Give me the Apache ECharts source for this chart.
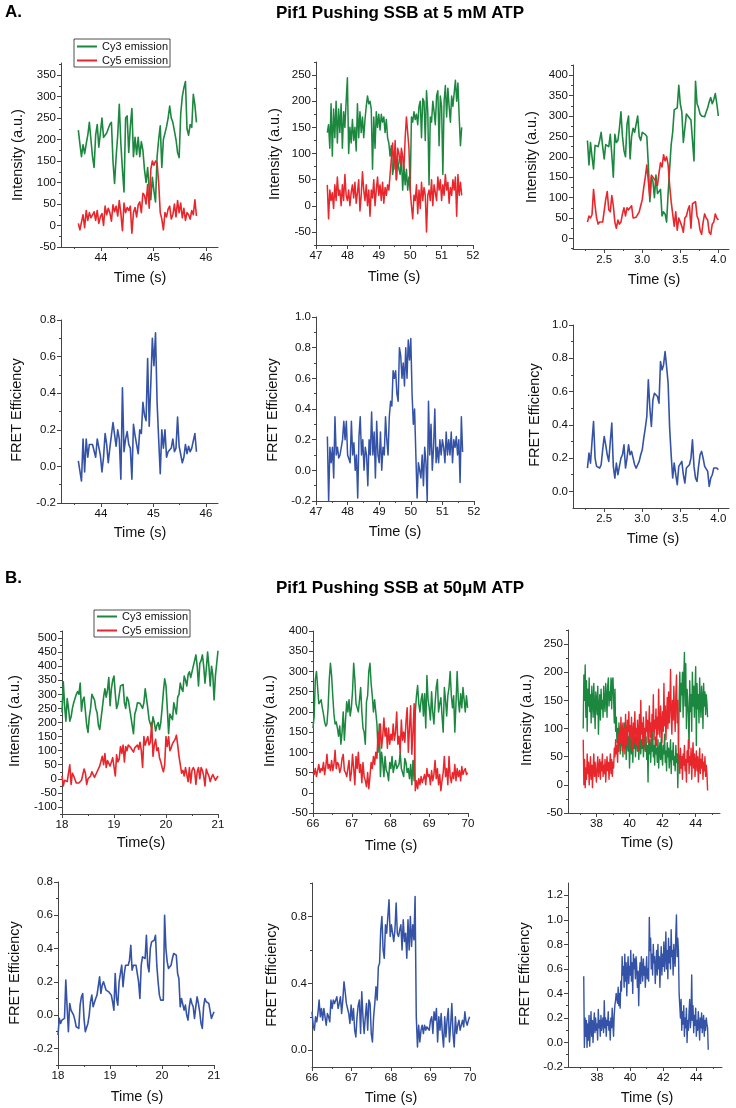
<!DOCTYPE html>
<html><head><meta charset="utf-8">
<script src="https://cdn.jsdelivr.net/npm/echarts@6/dist/echarts.min.js"></script>
<style>html,body{margin:0;padding:0;background:#fff}#c{width:736px;height:1108px}</style>
</head><body><div id="c"></div>
<script>
// ---------- sampling grids (start time, frame step in s) ----------
const a1Start = 43.57, a1Step = 0.03;
const a2Start = 47.36, a2Step = 0.04;
const a3Start = 2.28,  a3Step = 0.02;
const b1Start = 18.0,  b1Step = 0.025;
const b2Start = 66.0,  b2Step = 0.03;
const b3Start = 37.2,  b3Step = 0.04;

// ---------- A: 5 mM ATP ----------
const a1Cy3 = [222,190,160,188,167,190,210,240,200,160,135,210,235,182,215,250,205,210,215,225,235,240,150,98,160,210,282,190,130,78,250,255,170,230,272,160,205,165,205,160,195,175,130,100,135,85,60,112,80,55,160,200,232,135,200,215,230,250,278,250,240,220,200,170,158,260,300,320,335,225,210,235,228,305,280,240];
const a1Cy5 = [5,-10,8,25,-5,35,12,30,18,22,32,12,35,5,20,28,0,45,25,40,30,10,48,32,45,22,58,28,-12,52,30,42,35,45,-18,30,42,20,48,55,30,75,70,50,95,40,130,150,140,150,145,100,30,15,-10,30,20,38,45,15,25,50,20,58,30,52,18,40,12,30,25,15,35,25,60,22];
const a1Fret = [0.03,0.04,-0.08,0.15,-0.03,0.15,0.05,0.12,0.12,0.12,0.11,0.05,0.15,0.16,0.06,-0.03,0.05,0.18,0.12,0.02,0.1,0.11,0.24,0.23,0.11,0.2,0.15,-0.07,0.43,0.08,0.15,0.19,0.12,0.1,-0.07,0.23,0.17,0.18,0.07,0.2,0.18,0.35,0.28,0.25,0.59,0.22,0.45,0.7,0.55,0.73,0.35,0.15,-0.04,0.2,0.1,0.2,0.05,0.08,0.09,0.1,0.15,0.08,0.1,0.27,0.11,0.1,0.02,0.05,0.12,0.07,0.11,0.08,0.1,0.1,0.18,0.08];

const a2Cy3 = [140,155,110,195,95,185,130,200,120,185,140,195,110,180,150,200,245,100,150,120,165,125,150,105,195,130,180,140,170,130,165,190,210,195,200,185,70,170,110,180,150,175,145,175,160,170,140,165,130,120,95,115,60,75,110,50,90,70,60,95,30,75,40,70,30,55,30,170,160,180,165,175,155,190,200,130,205,200,125,220,180,40,170,160,200,180,155,210,220,115,210,190,60,200,230,170,225,190,160,210,190,215,240,200,235,170,115,150];
const a2Cy5 = [40,-25,30,10,25,-5,40,10,55,20,30,0,40,10,60,20,10,30,0,25,40,15,45,5,25,50,-10,20,65,30,10,40,0,30,-20,30,15,50,0,30,55,20,40,10,45,5,35,20,40,30,60,90,120,70,125,50,110,100,80,110,95,70,130,170,140,110,30,0,-25,20,10,40,-15,30,-5,45,10,35,20,-50,20,30,10,50,0,40,25,10,55,30,50,10,40,20,60,30,45,5,35,20,50,30,55,-20,60,20,45,20];
const a2Fret = [0.22,-0.2,0.15,0.05,0.15,-0.05,0.35,0.1,0.15,0.08,0.1,0.09,0.2,0.32,0.2,0.32,0.1,0.09,0.05,0.32,0.1,0.18,0.0,0.1,-0.18,0.22,0.35,0.1,0.2,0.0,0.15,0.1,-0.1,0.2,0.1,0.38,0.1,0.25,-0.05,0.32,0.1,0.05,0.25,0.0,0.15,0.1,0.35,0.2,0.1,0.35,0.45,0.42,0.65,0.6,0.65,0.5,0.45,0.8,0.75,0.6,0.7,0.55,0.8,0.6,0.85,0.72,0.86,0.5,0.3,0.4,0.1,-0.18,0.05,0.0,-0.05,0.1,-0.1,0.15,0.05,-0.2,0.45,0.1,0.3,0.0,0.15,0.4,0.05,0.15,0.05,0.2,0.1,0.2,0.15,0.05,0.25,0.1,0.2,0.1,0.25,0.05,0.2,0.15,0.22,0.1,0.2,-0.08,0.35,0.12];

const a3Cy3 = [240,180,235,200,170,228,230,225,240,260,225,195,230,228,225,255,205,150,255,235,240,270,310,250,215,200,280,300,195,250,270,260,280,300,250,240,260,258,255,250,180,90,150,140,100,155,110,115,120,55,65,60,40,110,170,230,260,315,318,320,375,330,310,235,270,305,300,295,290,240,190,385,330,320,305,300,300,298,310,320,335,345,330,340,355,330,300];
const a3Cy5 = [40,55,50,58,120,80,50,35,40,42,40,42,95,115,70,65,105,80,40,25,45,35,40,60,75,55,75,70,72,80,50,50,52,55,65,80,95,125,150,180,140,100,155,150,145,140,130,160,185,175,205,190,200,180,130,90,60,30,65,20,50,50,30,15,50,55,70,80,25,85,85,90,55,45,20,10,40,60,50,45,15,10,35,40,60,50,45];
const a3Fret = [0.14,0.23,0.17,0.3,0.42,0.2,0.15,0.14,0.14,0.16,0.25,0.33,0.28,0.22,0.18,0.3,0.41,0.15,0.08,0.17,0.1,0.1,0.2,0.22,0.28,0.14,0.2,0.28,0.22,0.24,0.2,0.16,0.14,0.16,0.18,0.22,0.25,0.32,0.38,0.45,0.67,0.5,0.39,0.55,0.59,0.6,0.57,0.53,0.78,0.73,0.76,0.84,0.75,0.65,0.38,0.22,0.08,0.17,0.1,0.04,0.15,0.16,0.18,0.1,0.05,0.14,0.15,0.16,0.2,0.31,0.15,0.08,0.06,0.15,0.22,0.24,0.2,0.15,0.14,0.12,0.03,0.08,0.1,0.14,0.15,0.14,0.13];

// ---------- B: 50 uM ATP ----------
const b1Cy3 = [235,345,260,205,285,250,205,220,250,270,285,300,310,300,340,240,280,290,240,190,165,220,250,300,300,280,250,235,190,175,170,250,290,320,290,315,360,260,320,350,365,300,250,265,270,330,330,335,270,250,290,280,250,220,190,160,230,245,270,272,268,265,250,270,320,318,250,210,195,180,220,200,170,190,200,175,200,250,310,355,330,250,160,230,225,210,270,250,230,290,300,340,320,310,365,350,330,370,380,360,365,400,420,440,400,330,410,420,440,400,340,390,450,400,330,400,370,280,365,360,455];
const b1Cy5 = [10,-25,-5,-10,-10,-8,50,-20,20,10,12,-15,-20,-15,-10,-5,0,35,20,-20,0,-5,10,25,30,5,10,25,35,45,40,80,50,90,40,65,60,45,40,75,80,10,85,60,70,115,90,120,60,115,100,120,125,110,110,95,110,105,120,105,130,100,40,150,120,135,150,120,130,200,80,120,140,100,110,75,60,40,25,50,150,115,150,100,110,125,130,140,155,120,80,50,20,30,10,40,35,-10,40,-15,30,40,30,-20,25,40,0,40,30,10,-25,35,20,10,-10,5,15,10,-5,0,10];
const b1Fret = [-0.12,-0.02,-0.05,-0.03,-0.03,-0.02,0.21,0.05,-0.1,0.07,0.03,0.04,0.0,-0.03,-0.07,-0.08,-0.08,0.06,0.11,0.13,-0.02,-0.1,-0.09,-0.05,0.0,0.08,0.12,0.05,0.05,0.1,0.12,0.12,0.23,0.13,0.18,0.2,0.19,0.15,0.14,0.14,0.15,0.12,0.08,0.03,0.25,0.1,0.06,0.2,0.19,0.3,0.17,0.25,0.3,0.31,0.3,0.33,0.42,0.27,0.3,0.29,0.3,0.31,0.2,0.1,0.3,0.35,0.35,0.34,0.48,0.3,0.26,0.4,0.44,0.43,0.45,0.48,0.3,0.2,0.12,0.09,0.08,0.09,0.6,0.4,0.32,0.28,0.29,0.3,0.34,0.37,0.37,0.36,0.25,0.22,0.05,0.1,0.1,0.03,0.06,0.0,-0.03,0.05,0.1,0.07,0.05,-0.02,0.05,0.11,0.07,0.02,-0.05,-0.08,0.05,0.1,0.08,0.07,0.07,0.06,-0.02,-0.02,0.02];

const b2Cy3 = [160,190,280,300,260,220,225,230,210,195,175,165,170,210,280,320,290,240,195,170,175,160,140,165,120,150,200,130,180,225,200,230,190,210,250,320,280,220,210,200,230,260,200,160,150,120,225,240,300,320,270,240,200,230,200,170,100,170,40,100,75,40,90,55,50,30,75,60,90,50,65,80,60,65,70,100,60,50,40,85,75,50,60,35,70,20,80,30,200,240,265,220,200,230,245,190,245,160,290,230,210,180,250,200,170,220,260,280,200,220,235,190,150,260,230,190,240,260,300,240,210,240,150,220,300,230,200,245,210,260,230,200,240,210];
const b2Cy5 = [50,45,60,40,55,70,50,60,55,75,45,65,95,60,70,55,80,55,70,105,60,75,70,50,60,85,95,55,50,40,60,80,30,50,95,60,20,90,60,100,50,70,25,75,40,30,15,50,10,40,75,60,90,70,100,85,150,115,170,110,140,185,140,160,110,160,120,145,130,170,130,150,200,120,140,100,180,130,150,125,175,210,100,160,215,95,150,220,5,30,10,35,20,40,25,35,45,20,60,40,45,20,55,30,45,80,35,60,20,45,5,30,50,90,40,60,20,90,40,25,50,35,70,30,60,40,55,30,65,45,55,60,45,50];
const b2Fret = [0.23,0.15,0.12,0.2,0.17,0.22,0.3,0.2,0.25,0.18,0.25,0.2,0.15,0.22,0.2,0.17,0.3,0.25,0.3,0.28,0.27,0.32,0.25,0.28,0.32,0.22,0.3,0.41,0.35,0.28,0.25,0.22,0.16,0.27,0.18,0.25,0.12,0.08,0.2,0.27,0.3,0.1,0.35,0.2,0.1,0.2,0.28,0.12,0.3,0.28,0.1,0.05,0.2,0.28,0.38,0.3,0.5,0.52,0.72,0.8,0.6,0.55,0.75,0.7,0.8,0.9,0.68,0.75,0.7,0.65,0.72,0.88,0.7,0.68,0.72,0.75,0.6,0.78,0.65,0.7,0.55,0.78,0.6,0.8,0.62,0.75,0.66,0.92,0.2,0.02,0.15,0.05,0.12,0.15,0.1,0.15,0.12,0.14,0.15,0.12,0.18,0.2,0.1,0.23,0.18,0.25,0.05,0.2,0.12,0.22,0.1,0.02,0.2,0.08,0.18,0.25,0.05,0.15,0.28,0.1,0.02,0.2,0.1,0.15,0.18,0.12,0.15,0.18,0.14,0.23,0.17,0.15,0.18,0.2];

const b3Cy3 = [100,195,150,213,120,185,95,170,140,190,130,160,110,175,150,120,180,140,100,165,150,125,175,90,140,160,115,170,135,150,120,175,145,130,180,160,120,175,190,140,165,150,190,135,185,190,150,110,170,95,120,75,100,60,110,85,55,95,70,105,50,80,110,65,90,45,75,100,60,85,30,70,95,55,80,40,90,65,100,50,75,95,60,85,45,70,100,55,80,65,90,50,75,95,60,85,45,70,5,90,55,80,40,75,60,95,50,70,35,85,55,65,40,80,30,60,75,45,85,50,35,70,55,90,40,60,25,75,50,65,30,55,80,20,60,45,75,35,50,25,70,40,55,-5,60,150,200,130,180,160,200,120,190,235,140,215,100,170,150,120,65,185,130,160,95,200,140,175,120,165,210,70,180,135,160,110,190,145,120,175,155,100,180,140,165,125,160,145,120];
const b3Cy5 = [80,0,45,-5,30,10,55,20,40,0,25,50,10,35,-5,30,55,15,40,20,5,35,50,15,30,45,10,40,25,55,15,35,20,45,5,30,50,25,40,10,35,55,20,45,15,40,30,65,50,80,55,70,40,90,60,100,75,120,85,60,110,80,100,55,125,90,70,115,95,130,65,105,85,120,60,95,110,75,130,90,100,70,115,60,95,125,80,150,90,110,70,120,85,100,60,130,95,115,75,105,140,85,110,70,125,95,160,80,115,100,135,70,120,90,170,105,85,140,110,75,130,95,180,105,140,80,120,155,100,165,110,140,205,120,90,150,115,175,130,95,160,195,110,150,60,45,20,65,30,50,10,55,35,70,25,45,5,60,40,80,20,50,35,65,10,45,75,30,55,15,40,60,25,50,5,35,65,20,45,30,55,10,40,25,50,15,35,20,-10];
const b3Fret = [0.54,-0.04,0.2,0.05,0.18,-0.04,0.15,0.02,0.22,-0.03,0.12,0.25,0.05,0.18,0.0,0.14,0.24,0.08,0.2,0.1,0.15,0.02,0.27,0.12,0.18,0.05,0.22,0.1,0.16,0.2,0.08,0.34,0.12,0.2,0.05,0.18,0.14,0.25,0.1,0.17,0.02,0.2,0.12,0.28,0.15,0.05,0.22,0.3,0.34,0.4,0.36,0.32,0.45,0.3,0.4,0.28,0.5,0.42,0.7,0.55,0.62,0.45,0.72,0.5,0.65,0.38,0.58,0.7,0.48,0.62,0.55,0.75,0.5,0.65,0.4,0.72,0.6,0.68,0.52,0.7,0.62,0.45,0.58,0.3,0.55,0.65,0.48,0.7,0.6,0.5,0.68,0.55,0.62,0.45,0.58,0.7,0.52,0.6,0.5,1.02,0.75,0.85,0.6,0.72,0.55,0.8,0.65,0.7,0.48,0.62,0.75,0.55,0.8,0.6,0.7,0.45,0.65,0.78,0.55,0.72,0.62,0.82,0.58,0.7,0.9,0.6,0.75,0.52,0.85,0.65,0.78,0.6,0.92,0.7,0.75,0.55,0.8,0.68,0.62,0.88,1.04,0.7,0.85,0.75,0.4,0.3,0.2,0.35,0.1,0.25,0.15,0.3,0.05,0.2,0.12,0.28,0.0,0.18,0.1,0.25,0.35,0.12,0.2,0.55,0.18,0.3,0.08,0.22,0.14,0.28,0.05,0.18,0.1,0.25,0.15,0.02,0.2,0.12,0.24,0.08,0.16,0.22,0.05,0.18,0.1,0.2,0.15,0.12,-0.06];

// ---------- tick values ----------
const a1XTicks = [44,45,46], a1XMinor = [43.5,44.5,45.5];
const a2XTicks = [47,48,49,50,51,52], a2XMinor = [47.5,48.5,49.5,50.5,51.5];
const a3XTicks = [2.5,3.0,3.5,4.0], a3XMinor = [2.25,2.75,3.25,3.75];
const b1XTicks = [18,19,20,21], b1XMinor = [18.5,19.5,20.5];
const b2XTicks = [66,67,68,69,70], b2XMinor = [66.5,67.5,68.5,69.5];
const b3XTicks = [38,40,42,44], b3XMinor = [37,39,41,43,45];

const a1YTicks = [-50,0,50,100,150,200,250,300,350], a1YMinor = [-25,25,75,125,175,225,275,325,375];
const a2YTicks = [-50,0,50,100,150,200,250], a2YMinor = [-75,-25,25,75,125,175,225,275];
const a3YTicks = [0,50,100,150,200,250,300,350,400], a3YMinor = [-25,25,75,125,175,225,275,325,375,425];
const a4YTicks = [-0.2,0.0,0.2,0.4,0.6,0.8], a4YMinor = [-0.1,0.1,0.3,0.5,0.7];
const a5YTicks = [-0.2,0.0,0.2,0.4,0.6,0.8,1.0], a5YMinor = [-0.1,0.1,0.3,0.5,0.7,0.9];
const a6YTicks = [0.0,0.2,0.4,0.6,0.8,1.0], a6YMinor = [0.1,0.3,0.5,0.7,0.9];
const b1YTicks = [-100,-50,0,50,100,150,200,250,300,350,400,450,500], b1YMinor = [-125,-75,-25,25,75,125,175,225,275,325,375,425,475,525];
const b2YTicks = [-50,0,50,100,150,200,250,300,350,400], b2YMinor = [-25,25,75,125,175,225,275,325,375];
const b3YTicks = [-50,0,50,100,150,200,250], b3YMinor = [-25,25,75,125,175,225,275];
const b4YTicks = [-0.2,0.0,0.2,0.4,0.6,0.8], b4YMinor = [-0.3,-0.1,0.1,0.3,0.5,0.7];
const b5YTicks = [0.0,0.4,0.8], b5YMinor = [0.2,0.6,1.0];
const b6YTicks = [-0.2,0.0,0.2,0.4,0.6,0.8,1.0,1.2], b6YMinor = [-0.1,0.1,0.3,0.5,0.7,0.9,1.1];

// ---------- drawing ----------
const FONT = "'Liberation Sans', Arial, Helvetica, sans-serif";
const GREEN = '#1b873f', RED = '#e8262b', BLUE = '#3553a6', AX = '#444', TXT = '#111';
const CY3 = 'Cy3 emission', CY5 = 'Cy5 emission', FR = 'FRET Efficiency';
const INT = 'Intensity (a.u.)';

const panels = [
  {g:{left:61,top:63,width:157,height:184}, x:[43.24,46.23], y:[-50,378], xt:a1XTicks, xm:a1XMinor, yt:a1YTicks, ym:a1YMinor, xd:0, yd:0, t0:a1Start, dt:a1Step, lw:1.6,
   lines:[[a1Cy3,GREEN,CY3],[a1Cy5,RED,CY5]], yT:[INT,18,155], xT:['Time (s)',140,278]},
  {g:{left:316,top:62,width:157,height:183}, x:[47,52], y:[-75,275], xt:a2XTicks, xm:a2XMinor, yt:a2YTicks, ym:a2YMinor, xd:0, yd:0, t0:a2Start, dt:a2Step, lw:1.5,
   lines:[[a2Cy3,GREEN,CY3],[a2Cy5,RED,CY5]], yT:[INT,275,154], xT:['Time (s)',394,277]},
  {g:{left:573,top:65,width:156,height:184}, x:[2.09,4.14], y:[-26,425], xt:a3XTicks, xm:a3XMinor, yt:a3YTicks, ym:a3YMinor, xd:1, yd:0, t0:a3Start, dt:a3Step, lw:1.6,
   lines:[[a3Cy3,GREEN,CY3],[a3Cy5,RED,CY5]], yT:[INT,532,157], xT:['Time (s)',654,280]},
  {g:{left:61,top:320,width:157,height:183}, x:[43.24,46.23], y:[-0.2,0.8], xt:a1XTicks, xm:a1XMinor, yt:a4YTicks, ym:a4YMinor, xd:0, yd:1, t0:a1Start, dt:a1Step, lw:1.6,
   lines:[[a1Fret,BLUE,FR]], yT:[FR,17,410], xT:['Time (s)',140,533]},
  {g:{left:316,top:317,width:158,height:184}, x:[47,52], y:[-0.2,1.0], xt:a2XTicks, xm:a2XMinor, yt:a5YTicks, ym:a5YMinor, xd:0, yd:1, t0:a2Start, dt:a2Step, lw:1.5,
   lines:[[a2Fret,BLUE,FR]], yT:[FR,273,410], xT:['Time (s)',395,532]},
  {g:{left:573,top:325,width:156,height:183}, x:[2.09,4.14], y:[-0.1,1.0], xt:a3XTicks, xm:a3XMinor, yt:a6YTicks, ym:a6YMinor, xd:1, yd:1, t0:a3Start, dt:a3Step, lw:1.6,
   lines:[[a3Fret,BLUE,FR]], yT:[FR,535,415], xT:['Time (s)',653,539]},
  {g:{left:62,top:631,width:156,height:183}, x:[18,21], y:[-125,525], xt:b1XTicks, xm:b1XMinor, yt:b1YTicks, ym:b1YMinor, xd:0, yd:0, t0:b1Start, dt:b1Step, lw:1.6,
   lines:[[b1Cy3,GREEN,CY3],[b1Cy5,RED,CY5]], yT:[INT,15,721], xT:['Time(s)',141,843]},
  {g:{left:313,top:631,width:155,height:182}, x:[66,70], y:[-50,400], xt:b2XTicks, xm:b2XMinor, yt:b2YTicks, ym:b2YMinor, xd:0, yd:0, t0:b2Start, dt:b2Step, lw:1.5,
   lines:[[b2Cy3,GREEN,CY3],[b2Cy5,RED,CY5]], yT:[INT,270,721], xT:['Time (s)',391,846]},
  {g:{left:568,top:630,width:152,height:183}, x:[36.28,45.47], y:[-50,275], xt:b3XTicks, xm:b3XMinor, yt:b3YTicks, ym:b3YMinor, xd:0, yd:0, t0:b3Start, dt:b3Step, lw:1.4,
   lines:[[b3Cy3,GREEN,CY3],[b3Cy5,RED,CY5]], yT:[INT,527,720], xT:['Time (s)',647,843]},
  {g:{left:58,top:882,width:156,height:183}, x:[18,21], y:[-0.3,0.8], xt:b1XTicks, xm:b1XMinor, yt:b4YTicks, ym:b4YMinor, xd:0, yd:1, t0:b1Start, dt:b1Step, lw:1.6,
   lines:[[b1Fret,BLUE,FR]], yT:[FR,15,973], xT:['Time (s)',137,1097]},
  {g:{left:312,top:883,width:158,height:184}, x:[66,70], y:[-0.1,1.0], xt:b2XTicks, xm:b2XMinor, yt:b5YTicks, ym:b5YMinor, xd:0, yd:1, t0:b2Start, dt:b2Step, lw:1.5,
   lines:[[b2Fret,BLUE,FR]], yT:[FR,272,975], xT:['Time (s)',391,1098]},
  {g:{left:568,top:883,width:154,height:184}, x:[36.25,45.55], y:[-0.2,1.3], xt:b3XTicks, xm:b3XMinor, yt:b6YTicks, ym:b6YMinor, xd:0, yd:1, t0:b3Start, dt:b3Step, lw:1.4,
   lines:[[b3Fret,BLUE,FR]], yT:[FR,525,974], xT:['Time (s)',647,1098]}
];

const fmt = (v,d) => Number(v).toFixed(d);
const grid = [], xAxis = [], yAxis = [], series = [], graphic = [];
const lblStyle = {fontSize:11.5, color:TXT, fontFamily:FONT};

panels.forEach((p,k) => {
  grid.push(Object.assign({containLabel:false}, p.g));
  const line = {show:true, onZero:false, lineStyle:{color:AX, width:1}};
  const noLine = {show:false, onZero:false};
  xAxis.push({type:'value', gridIndex:k, position:'bottom', min:p.x[0], max:p.x[1], axisLine:line, splitLine:{show:false},
    axisTick:{show:true, length:4, customValues:p.xt, lineStyle:{color:AX}},
    axisLabel:Object.assign({customValues:p.xt, margin:5, formatter:v=>fmt(v,p.xd)}, lblStyle)});
  xAxis.push({type:'value', gridIndex:k, position:'bottom', min:p.x[0], max:p.x[1], axisLine:noLine, splitLine:{show:false},
    axisTick:{show:true, length:2, customValues:p.xm, lineStyle:{color:AX}}, axisLabel:{show:false}});
  yAxis.push({type:'value', gridIndex:k, position:'left', min:p.y[0], max:p.y[1], axisLine:line, splitLine:{show:false},
    axisTick:{show:true, length:4, customValues:p.yt, lineStyle:{color:AX}},
    axisLabel:Object.assign({customValues:p.yt, margin:5, formatter:v=>fmt(v,p.yd)}, lblStyle)});
  yAxis.push({type:'value', gridIndex:k, position:'left', min:p.y[0], max:p.y[1], axisLine:noLine, splitLine:{show:false},
    axisTick:{show:true, length:2, customValues:p.ym, lineStyle:{color:AX}}, axisLabel:{show:false}});
  p.lines.forEach(([vals,color,name]) => {
    series.push({type:'line', name, xAxisIndex:2*k, yAxisIndex:2*k, showSymbol:false, symbol:'none', silent:true,
      lineStyle:{color, width:p.lw, join:'round'}, itemStyle:{color}, emphasis:{disabled:true},
      data: vals.map((v,i) => [p.t0 + i*p.dt, v])});
  });
  graphic.push({type:'text', x:p.yT[1], y:p.yT[2], rotation:Math.PI/2, silent:true,
    style:{text:p.yT[0], fontSize:14.5, fontFamily:FONT, fill:TXT, align:'center', verticalAlign:'middle', textAlign:'center', textVerticalAlign:'middle'}});
  graphic.push({type:'text', x:p.xT[1], y:p.xT[2], silent:true,
    style:{text:p.xT[0], fontSize:14.5, fontFamily:FONT, fill:TXT, align:'center', verticalAlign:'middle', textAlign:'center', textVerticalAlign:'middle'}});
});

const titles = [['A.',5,12,'left'],['Pif1 Pushing SSB at 5 mM ATP',400,13,'center'],['B.',5,578,'left'],['Pif1 Pushing SSB at 50\u03bcM ATP',400,588,'center']];
titles.forEach(([t,x,y,a]) => graphic.push({type:'text', x, y, silent:true,
  style:{text:t, fontSize:17, fontWeight:'bold', fontFamily:FONT, fill:'#000', align:a, verticalAlign:'middle', textAlign:a, textVerticalAlign:'middle'}}));

const legendBase = {data:[CY3,CY5], orient:'vertical', icon:'rect', itemWidth:20, itemHeight:2, itemGap:3,
  borderColor:'#222', borderWidth:0.8, selectedMode:false, textStyle:{fontSize:11, color:TXT, fontFamily:FONT}};
const legend = [
  Object.assign({left:74, top:39, padding:[2,2,1,3]}, legendBase),
  Object.assign({left:94, top:610, padding:[1,2,1,3], itemGap:2}, legendBase)
];

const chart = echarts.init(document.getElementById('c'), null, {renderer:'canvas'});
chart.setOption({animation:false, backgroundColor:'#fff', textStyle:{fontFamily:FONT}, grid, xAxis, yAxis, series, legend, graphic});
</script></body></html>
